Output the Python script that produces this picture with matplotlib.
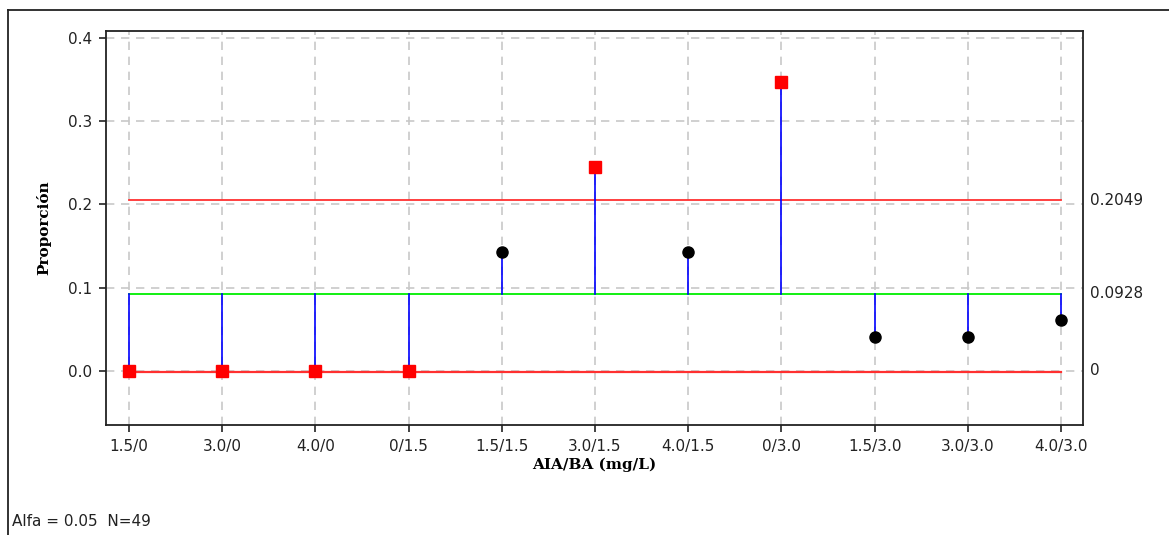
import matplotlib
matplotlib.use("Agg")
import matplotlib.pyplot as plt
import matplotlib.transforms as mtransforms
from matplotlib.lines import Line2D

categories = ["1.5/0", "3.0/0", "4.0/0", "0/1.5", "1.5/1.5", "3.0/1.5",
              "4.0/1.5", "0/3.0", "1.5/3.0", "3.0/3.0", "4.0/3.0"]
proportions = [0.0, 0.0, 0.0, 0.0, 0.1429, 0.2449, 0.1429, 0.3469, 0.0408, 0.0408, 0.0612]
center = 0.0928
udl = 0.2049
ldl = 0.0
limit_labels = ["0.2049", "0.0928", "0"]
footer = "Alfa = 0.05  N=49"

W, H = 1169, 535
fig = plt.figure(figsize=(W / 100, H / 100), dpi=100)
ax = fig.add_axes([106 / W, 1 - 425 / H, (1083 - 106) / W, (425 - 31) / H])

x = list(range(len(categories)))
ax.set_xlim(-0.247, 10.236)
ax.set_ylim(-0.065, 0.408)

# grid
ax.set_yticks([0.0, 0.1, 0.2, 0.3, 0.4])
ax.set_yticklabels(["0.0", "0.1", "0.2", "0.3", "0.4"])
ax.set_xticks(x)
ax.set_xticklabels(categories)
ax.grid(True, color="#c8c8c8", linestyle=(0, (5, 4)), linewidth=1.2)
ax.set_axisbelow(True)

# limit lines
ax.plot([x[0], x[-1]], [udl, udl], color="#ff3030", lw=1.3, zorder=2)
ax.plot([x[0], x[-1]], [ldl - 0.001, ldl - 0.001], color="#ff3030", lw=1.6, zorder=2)
ax.plot([x[0], x[-1]], [center, center], color="#00ee00", lw=1.3, zorder=2)

# stems
for xi, p in zip(x, proportions):
    ax.plot([xi, xi], [center, p], color="#0000ff", lw=1.2, zorder=3)

# markers
for xi, p in zip(x, proportions):
    if p >= udl or p <= ldl:
        ax.plot(xi, p, marker="s", color="#ff0000", markersize=8.5, mec="#ff0000", zorder=4)
    else:
        ax.plot(xi, p, marker="o", color="black", markersize=8, zorder=4)

trans = mtransforms.blended_transform_factory(ax.transAxes, ax.transData)
for val, lab in zip([udl, center, ldl], limit_labels):
    ax.text(1.007, val, lab, transform=trans, ha="left", va="center",
            fontsize=11, color="#222222", family="DejaVu Sans")

for side in ["left", "bottom", "right", "top"]:
    ax.spines[side].set_linewidth(1.3)
    ax.spines[side].set_color("#222222")
ax.tick_params(axis="both", direction="out", length=5, width=1.2, labelsize=11,
               colors="#222222", pad=5)

ax.set_xlabel("AIA/BA (mg/L)", fontsize=11, fontweight="bold",
              family="DejaVu Serif", labelpad=3)
ax.set_ylabel("Proporción", fontsize=11, fontweight="bold",
              family="DejaVu Serif", labelpad=12)

fig.text(12 / W, 1 - 522 / H, footer, ha="left", va="center", fontsize=11,
         color="#222222")

# outer frame
fig.add_artist(Line2D([8 / W, 1], [1 - 10 / H, 1 - 10 / H], color="#222222", lw=1.3,
                      transform=fig.transFigure))
fig.add_artist(Line2D([8 / W, 8 / W], [0, 1 - 10 / H], color="#222222", lw=1.3,
                      transform=fig.transFigure))

fig.savefig("out.png", dpi=100)
